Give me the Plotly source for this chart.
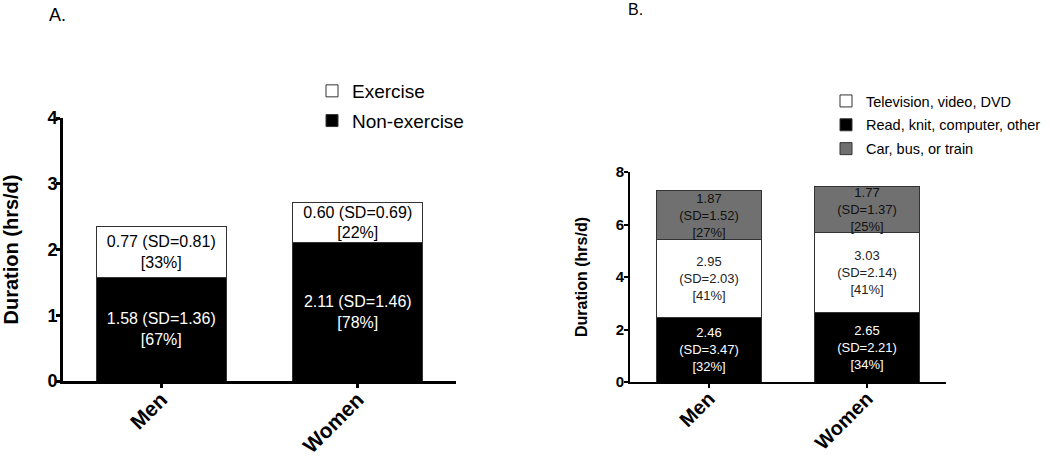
import plotly.graph_objects as go

# ---------------- data ----------------
categories = ["Men", "Women"]

# Panel A
nonex_mean = [1.58, 2.11]
nonex_sd = [1.36, 1.46]
nonex_pct = [67, 78]
ex_mean = [0.77, 0.60]
ex_sd = [0.81, 0.69]
ex_pct = [33, 22]

# Panel B
read_mean = [2.46, 2.65]
read_sd = [3.47, 2.21]
read_pct = [32, 34]
tv_mean = [2.95, 3.03]
tv_sd = [2.03, 2.14]
tv_pct = [41, 41]
car_mean = [1.87, 1.77]
car_sd = [1.52, 1.37]
car_pct = [27, 25]

FONT = "Arial, Liberation Sans, sans-serif"
W, H = 1050, 459


def labels_a(m, s, p):
    return [f"{a:.2f} (SD={b:.2f})<br>[{c}%]" for a, b, c in zip(m, s, p)]


def labels_b(m, s, p):
    return [f"{a:.2f}<br>(SD={b:.2f})<br>[{c}%]" for a, b, c in zip(m, s, p)]


fig = go.Figure()

edge = dict(color="#333333", width=1)
common_bar = dict(textposition="inside", insidetextanchor="middle", textangle=0,
                  constraintext="none", width=0.66, hoverinfo="skip")

# Panel A traces
fig.add_trace(go.Bar(
    x=categories, y=nonex_mean, name="Non-exercise",
    marker=dict(color="#000000", line=edge),
    text=labels_a(nonex_mean, nonex_sd, nonex_pct),
    textfont=dict(family=FONT, size=16, color="white"),
    xaxis="x", yaxis="y", legend="legend",
    legendgroup="a2", legendrank=2, **common_bar,
))
fig.add_trace(go.Bar(
    x=categories, y=ex_mean, name="Exercise",
    marker=dict(color="#ffffff", line=edge),
    text=labels_a(ex_mean, ex_sd, ex_pct),
    textfont=dict(family=FONT, size=16, color="black"),
    xaxis="x", yaxis="y", legend="legend",
    legendgroup="a1", legendrank=1, **common_bar,
))

# Panel B traces
fig.add_trace(go.Bar(
    x=categories, y=read_mean, name="Read, knit, computer, other",
    marker=dict(color="#000000", line=edge),
    text=labels_b(read_mean, read_sd, read_pct),
    textfont=dict(family=FONT, size=13, color="white"),
    xaxis="x2", yaxis="y2", legend="legend2",
    legendgroup="b2", legendrank=2, **common_bar,
))
fig.add_trace(go.Bar(
    x=categories, y=tv_mean, name="Television, video, DVD",
    marker=dict(color="#ffffff", line=edge),
    text=labels_b(tv_mean, tv_sd, tv_pct),
    textfont=dict(family=FONT, size=13, color="#222222"),
    xaxis="x2", yaxis="y2", legend="legend2",
    legendgroup="b1", legendrank=1, **common_bar,
))
fig.add_trace(go.Bar(
    x=categories, y=car_mean, name="Car, bus, or train",
    marker=dict(color="#707070", line=edge),
    text=labels_b(car_mean, car_sd, car_pct),
    textfont=dict(family=FONT, size=13, color="#111111"),
    xaxis="x2", yaxis="y2", legend="legend2",
    legendgroup="b3", legendrank=3, **common_bar,
))


def px_x(p):
    return p / W


def px_y(p):
    return 1 - p / H


xa_common = dict(
    type="category", range=[-0.5, 1.5], showgrid=False, zeroline=False,
    showline=True, linecolor="black", ticks="outside", tickcolor="black",
    ticklen=4, tickangle=-45, automargin=False, ticklabelstandoff=-9,
)
ya_common = dict(
    showgrid=False, zeroline=False, showline=True, linecolor="black",
    ticks="outside", tickcolor="black", ticklen=4, automargin=False,
)

fig.update_layout(
    width=W, height=H,
    margin=dict(l=0, r=0, t=0, b=0, autoexpand=False),
    paper_bgcolor="white", plot_bgcolor="white",
    barmode="stack",
    showlegend=True,
    font=dict(family=FONT, color="black"),
    xaxis=dict(
        **xa_common, domain=[px_x(63), px_x(456)], anchor="y",
        linewidth=3, tickwidth=3,
        tickfont=dict(family=FONT, size=21, color="black", weight="bold"),
    ),
    yaxis=dict(
        **ya_common, domain=[px_y(381), px_y(118)], anchor="x",
        range=[0, 4], dtick=1, linewidth=3, tickwidth=3, ticklabelstandoff=-5,
        tickfont=dict(family=FONT, size=18, color="black", weight="bold"),
        title=dict(text="Duration (hrs/d)", standoff=38,
                   font=dict(family=FONT, size=20, color="black", weight="bold")),
    ),
    xaxis2=dict(
        **xa_common, domain=[px_x(630), px_x(946)], anchor="y2",
        linewidth=2, tickwidth=2,
        tickfont=dict(family=FONT, size=20, color="black", weight="bold"),
    ),
    yaxis2=dict(
        **ya_common, domain=[px_y(382), px_y(172)], anchor="x2",
        range=[0, 8], dtick=2, linewidth=2, tickwidth=2, ticklabelstandoff=-3,
        tickfont=dict(family=FONT, size=15, color="black", weight="bold"),
        title=dict(text="Duration (hrs/d)", standoff=24,
                   font=dict(family=FONT, size=16, color="black", weight="bold")),
    ),
    legend=dict(
        x=px_x(312), y=px_y(72), xanchor="left", yanchor="top",
        traceorder="grouped", tracegroupgap=2,
        font=dict(family=FONT, size=19, color="black"),
        bgcolor="rgba(0,0,0,0)",
    ),
    legend2=dict(
        x=px_x(826), y=px_y(85), xanchor="left", yanchor="top",
        traceorder="grouped", tracegroupgap=2,
        font=dict(family=FONT, size=14.5, color="black"),
        bgcolor="rgba(0,0,0,0)",
    ),
    annotations=[
        dict(text="A.", x=px_x(47), y=px_y(15), xref="paper", yref="paper",
             xanchor="left", yanchor="middle", showarrow=False,
             font=dict(family=FONT, size=18, color="black")),
        dict(text="B.", x=px_x(626), y=px_y(9), xref="paper", yref="paper",
             xanchor="left", yanchor="middle", showarrow=False,
             font=dict(family=FONT, size=16, color="black")),
    ],
)

fig.write_html("out.html", config={"displayModeBar": False},
               post_script="document.body.style.margin='0';")
